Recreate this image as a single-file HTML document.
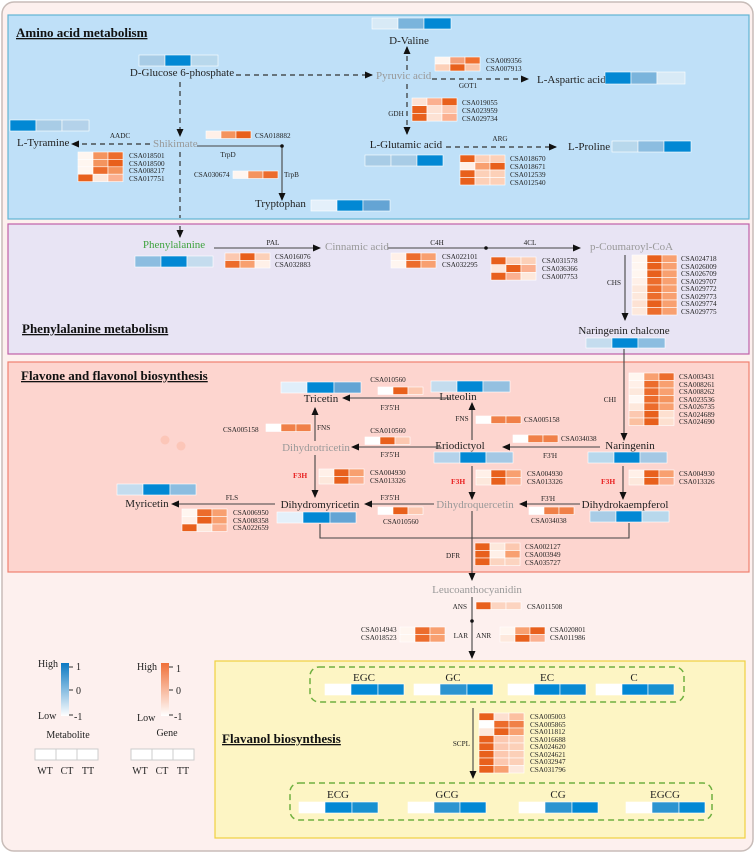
<!DOCTYPE html>
<html><head><meta charset="utf-8"><style>
html,body{margin:0;padding:0;background:#fff;}
svg{display:block;font-family:"Liberation Serif",serif;}
.g{font-size:7.2px;fill:#222}
.m{font-size:11px;fill:#222}
.gr{fill:#999}
.e{font-size:7.5px;fill:#222}
.t{font-size:13px;font-weight:bold;text-decoration:underline;fill:#111}
.d{stroke:#333;stroke-width:1.2;stroke-dasharray:5,4;fill:none}
.l{stroke:#444;stroke-width:1.1;fill:none}
rect.c{stroke:#fff;stroke-width:0.6}
</style></head><body>
<svg width="756" height="854" viewBox="0 0 756 854" xmlns="http://www.w3.org/2000/svg">
<defs>
<marker id="a" markerWidth="8" markerHeight="8" refX="7" refY="4" orient="auto" markerUnits="userSpaceOnUse"><path d="M0,0.5 L8,4 L0,7.5z" fill="#111"/></marker>
<linearGradient id="gb" x1="0" y1="1" x2="0" y2="0"><stop offset="0" stop-color="#fff"/><stop offset="1" stop-color="#0a78c2"/></linearGradient>
<linearGradient id="go" x1="0" y1="1" x2="0" y2="0"><stop offset="0" stop-color="#fff"/><stop offset="1" stop-color="#f07038"/></linearGradient>
</defs>
<rect x="2" y="2" width="751" height="849" rx="12" fill="#fdf0ee" stroke="#c8bcb8" stroke-width="1.5"/>
<rect x="8" y="15" width="741" height="204" fill="#bfe0f8" stroke="#62b4d4" stroke-width="1.2"/>
<rect x="8" y="224" width="741" height="130" fill="#e8e4f4" stroke="#c060a8" stroke-width="1.2"/>
<rect x="8" y="362" width="741" height="210" fill="#fdd5cf" stroke="#f08070" stroke-width="1.2"/>
<rect x="215" y="661" width="530" height="177" fill="#fdf5c4" stroke="#f0d040" stroke-width="1.2"/>

<text x="16" y="37" class="t">Amino acid metabolism</text>
<text x="22" y="333" class="t">Phenylalanine metabolism</text>
<text x="21" y="380" class="t">Flavone and flavonol biosynthesis</text>
<text x="222" y="743" class="t">Flavanol biosynthesis</text>

<!-- Amino acid -->
<g>
<rect class="c" x="139" y="55" width="26" height="11" fill="#a8cce6"/><rect class="c" x="165" y="55" width="26" height="11" fill="#0288d4"/><rect class="c" x="191" y="55" width="27" height="11" fill="#b8d8ec"/>
<text x="182" y="76" class="m" text-anchor="middle">D-Glucose 6-phosphate</text>
<line x1="236" y1="75" x2="372" y2="75" class="d" marker-end="url(#a)"/>
<text x="376" y="79" class="m gr">Pyruvic acid</text>
<rect class="c" x="372" y="18" width="26" height="11" fill="#d8eaf6"/><rect class="c" x="398" y="18" width="26" height="11" fill="#7ab4dc"/><rect class="c" x="424" y="18" width="27" height="11" fill="#0288d4"/>
<text x="409" y="44" class="m" text-anchor="middle">D-Valine</text>
<line x1="407" y1="70" x2="407" y2="47" class="d" marker-end="url(#a)"/>
<line x1="407" y1="84" x2="407" y2="134" class="d" marker-end="url(#a)"/>
<rect class="c" x="435" y="57" width="15" height="7" fill="#fff6f0"/><rect class="c" x="450" y="57" width="15" height="7" fill="#f4a07a"/><rect class="c" x="465" y="57" width="15" height="7" fill="#f07030"/>
<rect class="c" x="435" y="64" width="15" height="7" fill="#fcd0b8"/><rect class="c" x="450" y="64" width="15" height="7" fill="#e8601c"/><rect class="c" x="465" y="64" width="15" height="7" fill="#fbc4a8"/>
<text x="486" y="63" class="g">CSA009356</text><text x="486" y="71" class="g">CSA007913</text>
<line x1="432" y1="79" x2="528" y2="79" class="d" marker-end="url(#a)"/>
<text x="468" y="88" class="g" text-anchor="middle">GOT1</text>
<text x="537" y="83" class="m">L-Aspartic acid</text>
<rect class="c" x="605" y="72" width="26" height="12" fill="#0288d4"/><rect class="c" x="631" y="72" width="26" height="12" fill="#7ab4dc"/><rect class="c" x="657" y="72" width="28" height="12" fill="#d8eaf6"/>
<text x="396" y="116" class="g" text-anchor="middle">GDH</text>
<rect class="c" x="412" y="98" width="15" height="7.7" fill="#fde2d4"/><rect class="c" x="427" y="98" width="15" height="7.7" fill="#fbb090"/><rect class="c" x="442" y="98" width="15" height="7.7" fill="#e8601c"/>
<rect class="c" x="412" y="105.7" width="15" height="7.7" fill="#e8601c"/><rect class="c" x="427" y="105.7" width="15" height="7.7" fill="#fde2d4"/><rect class="c" x="442" y="105.7" width="15" height="7.7" fill="#fcc8b0"/>
<rect class="c" x="412" y="113.4" width="15" height="7.7" fill="#e8601c"/><rect class="c" x="427" y="113.4" width="15" height="7.7" fill="#fde2d4"/><rect class="c" x="442" y="113.4" width="15" height="7.7" fill="#fbb090"/>
<text x="462" y="105" class="g">CSA019055</text><text x="462" y="113" class="g">CSA023959</text><text x="462" y="121" class="g">CSA029734</text>
<text x="406" y="148" class="m" text-anchor="middle">L-Glutamic acid</text>
<rect class="c" x="365" y="155" width="26" height="11" fill="#a8cce6"/><rect class="c" x="391" y="155" width="26" height="11" fill="#a8cce6"/><rect class="c" x="417" y="155" width="26" height="11" fill="#0288d4"/>
<line x1="446" y1="147" x2="556" y2="147" class="d" marker-end="url(#a)"/>
<text x="500" y="141" class="g" text-anchor="middle">ARG</text>
<text x="568" y="150" class="m">L-Proline</text>
<rect class="c" x="612" y="141" width="26" height="11" fill="#b8d8ec"/><rect class="c" x="638" y="141" width="26" height="11" fill="#8cbde0"/><rect class="c" x="664" y="141" width="27" height="11" fill="#0288d4"/>
<rect class="c" x="460" y="155" width="15" height="7.5" fill="#e8601c"/><rect class="c" x="475" y="155" width="15" height="7.5" fill="#fcd0b8"/><rect class="c" x="490" y="155" width="15" height="7.5" fill="#fcd0b8"/>
<rect class="c" x="460" y="162.5" width="15" height="7.5" fill="#fff0e8"/><rect class="c" x="475" y="162.5" width="15" height="7.5" fill="#f8a070"/><rect class="c" x="490" y="162.5" width="15" height="7.5" fill="#e8601c"/>
<rect class="c" x="460" y="170" width="15" height="7.5" fill="#e8601c"/><rect class="c" x="475" y="170" width="15" height="7.5" fill="#fcd0b8"/><rect class="c" x="490" y="170" width="15" height="7.5" fill="#fcd0b8"/>
<rect class="c" x="460" y="177.5" width="15" height="7.5" fill="#e8601c"/><rect class="c" x="475" y="177.5" width="15" height="7.5" fill="#fcd0b8"/><rect class="c" x="490" y="177.5" width="15" height="7.5" fill="#fcd0b8"/>
<text x="510" y="161" class="g">CSA018670</text><text x="510" y="169" class="g">CSA018671</text><text x="510" y="177" class="g">CSA012539</text><text x="510" y="185" class="g">CSA012540</text>
<line x1="180" y1="82" x2="180" y2="136" class="d" marker-end="url(#a)"/>
<text x="153" y="147" class="m gr">Shikimate</text>
<line x1="150" y1="144" x2="72" y2="144" class="d" marker-end="url(#a)"/>
<text x="17" y="146" class="m">L-Tyramine</text>
<rect class="c" x="10" y="120" width="26" height="11" fill="#0288d4"/><rect class="c" x="36" y="120" width="26" height="11" fill="#a8cce6"/><rect class="c" x="62" y="120" width="27" height="11" fill="#b4d2ea"/>
<text x="120" y="138" class="g" text-anchor="middle">AADC</text>
<rect class="c" x="78" y="152" width="15" height="7.4" fill="#fff6f0"/><rect class="c" x="93" y="152" width="15" height="7.4" fill="#f4945e"/><rect class="c" x="108" y="152" width="15" height="7.4" fill="#ec6c2c"/>
<rect class="c" x="78" y="159.4" width="15" height="7.4" fill="#fff6f0"/><rect class="c" x="93" y="159.4" width="15" height="7.4" fill="#f4945e"/><rect class="c" x="108" y="159.4" width="15" height="7.4" fill="#e8601c"/>
<rect class="c" x="78" y="166.8" width="15" height="7.4" fill="#fff6f0"/><rect class="c" x="93" y="166.8" width="15" height="7.4" fill="#ec6c2c"/><rect class="c" x="108" y="166.8" width="15" height="7.4" fill="#f4945e"/>
<rect class="c" x="78" y="174.2" width="15" height="7.4" fill="#e8601c"/><rect class="c" x="93" y="174.2" width="15" height="7.4" fill="#fde8dc"/><rect class="c" x="108" y="174.2" width="15" height="7.4" fill="#fbb090"/>
<text x="129" y="158" class="g">CSA018501</text><text x="129" y="166" class="g">CSA018500</text><text x="129" y="173" class="g">CSA008217</text><text x="129" y="181" class="g">CSA017751</text>
<line x1="180" y1="152" x2="180" y2="218" class="d"/>
<line x1="180" y1="226" x2="180" y2="237" class="d" marker-end="url(#a)"/>
<polyline points="197,146 282,146 282,200" class="l" marker-end="url(#a)"/>
<circle cx="282" cy="146" r="1.8" fill="#111"/>
<rect class="c" x="206" y="131" width="15" height="7.5" fill="#fff0e8"/><rect class="c" x="221" y="131" width="15" height="7.5" fill="#f4945e"/><rect class="c" x="236" y="131" width="15" height="7.5" fill="#e8601c"/>
<text x="255" y="138" class="g">CSA018882</text>
<text x="228" y="157" class="g" text-anchor="middle">TrpD</text>
<text x="194" y="177" class="g">CSA030674</text>
<rect class="c" x="233" y="171" width="15" height="7.5" fill="#fff6f0"/><rect class="c" x="248" y="171" width="15" height="7.5" fill="#f4945e"/><rect class="c" x="263" y="171" width="15" height="7.5" fill="#ec6c2c"/>
<text x="284" y="177" class="g">TrpB</text>
<text x="255" y="207" class="m">Tryptophan</text>
<rect class="c" x="311" y="200" width="26" height="11" fill="#e4f0fa"/><rect class="c" x="337" y="200" width="26" height="11" fill="#0288d4"/><rect class="c" x="363" y="200" width="27" height="11" fill="#64a4d4"/>
</g>

<!-- Phenylalanine -->
<g>
<text x="174" y="248" class="m" text-anchor="middle" style="fill:#3fa33f">Phenylalanine</text>
<rect class="c" x="135" y="256" width="26" height="11" fill="#8cbde0"/><rect class="c" x="161" y="256" width="26" height="11" fill="#0288d4"/><rect class="c" x="187" y="256" width="26" height="11" fill="#c4dcee"/>
<line x1="214" y1="248" x2="320" y2="248" class="l" marker-end="url(#a)"/>
<text x="273" y="245" class="g" text-anchor="middle">PAL</text>
<rect class="c" x="225" y="253" width="15" height="7.5" fill="#fcc8b0"/><rect class="c" x="240" y="253" width="15" height="7.5" fill="#e8601c"/><rect class="c" x="255" y="253" width="15" height="7.5" fill="#fcd0b8"/>
<rect class="c" x="225" y="260.5" width="15" height="7.5" fill="#ec6c2c"/><rect class="c" x="240" y="260.5" width="15" height="7.5" fill="#f8a070"/><rect class="c" x="255" y="260.5" width="15" height="7.5" fill="#fff0e8"/>
<text x="275" y="259" class="g">CSA016076</text><text x="275" y="267" class="g">CSA032883</text>
<text x="325" y="250" class="m gr">Cinnamic acid</text>
<line x1="388" y1="248" x2="580" y2="248" class="l" marker-end="url(#a)"/>
<circle cx="486" cy="248" r="1.8" fill="#111"/>
<text x="437" y="245" class="g" text-anchor="middle">C4H</text><text x="530" y="245" class="g" text-anchor="middle">4CL</text>
<rect class="c" x="391" y="253" width="15" height="7.5" fill="#fff0e8"/><rect class="c" x="406" y="253" width="15" height="7.5" fill="#ec6c2c"/><rect class="c" x="421" y="253" width="15" height="7.5" fill="#f8a070"/>
<rect class="c" x="391" y="260.5" width="15" height="7.5" fill="#fff6f0"/><rect class="c" x="406" y="260.5" width="15" height="7.5" fill="#ec6c2c"/><rect class="c" x="421" y="260.5" width="15" height="7.5" fill="#f8a070"/>
<text x="442" y="259" class="g">CSA022101</text><text x="442" y="267" class="g">CSA032295</text>
<rect class="c" x="491" y="257" width="15" height="7.7" fill="#e8601c"/><rect class="c" x="506" y="257" width="15" height="7.7" fill="#fcd0b8"/><rect class="c" x="521" y="257" width="15" height="7.7" fill="#fcd0b8"/>
<rect class="c" x="491" y="264.7" width="15" height="7.7" fill="#fde8dc"/><rect class="c" x="506" y="264.7" width="15" height="7.7" fill="#e8601c"/><rect class="c" x="521" y="264.7" width="15" height="7.7" fill="#fbb090"/>
<rect class="c" x="491" y="272.4" width="15" height="7.7" fill="#e8601c"/><rect class="c" x="506" y="272.4" width="15" height="7.7" fill="#fbb090"/><rect class="c" x="521" y="272.4" width="15" height="7.7" fill="#fde8dc"/>
<text x="542" y="263" class="g">CSA031578</text><text x="542" y="271" class="g">CSA036366</text><text x="542" y="279" class="g">CSA007753</text>
<text x="590" y="250" class="m gr">p-Coumaroyl-CoA</text>
<line x1="625" y1="255" x2="625" y2="320" class="l" marker-end="url(#a)"/>
<text x="614" y="285" class="g" text-anchor="middle">CHS</text>
<g>
<rect class="c" x="632" y="255" width="15" height="7.5" fill="#fff6f0"/><rect class="c" x="647" y="255" width="15" height="7.5" fill="#e8601c"/><rect class="c" x="662" y="255" width="15" height="7.5" fill="#f8a070"/>
<rect class="c" x="632" y="262.5" width="15" height="7.5" fill="#fff6f0"/><rect class="c" x="647" y="262.5" width="15" height="7.5" fill="#e8601c"/><rect class="c" x="662" y="262.5" width="15" height="7.5" fill="#f8a070"/>
<rect class="c" x="632" y="270" width="15" height="7.5" fill="#fff6f0"/><rect class="c" x="647" y="270" width="15" height="7.5" fill="#e8601c"/><rect class="c" x="662" y="270" width="15" height="7.5" fill="#f8a070"/>
<rect class="c" x="632" y="277.5" width="15" height="7.5" fill="#fff0e8"/><rect class="c" x="647" y="277.5" width="15" height="7.5" fill="#ec6c2c"/><rect class="c" x="662" y="277.5" width="15" height="7.5" fill="#f8a070"/>
<rect class="c" x="632" y="285" width="15" height="7.5" fill="#fde8dc"/><rect class="c" x="647" y="285" width="15" height="7.5" fill="#ec6c2c"/><rect class="c" x="662" y="285" width="15" height="7.5" fill="#f8a070"/>
<rect class="c" x="632" y="292.5" width="15" height="7.5" fill="#fde8dc"/><rect class="c" x="647" y="292.5" width="15" height="7.5" fill="#ec6c2c"/><rect class="c" x="662" y="292.5" width="15" height="7.5" fill="#f8a070"/>
<rect class="c" x="632" y="300" width="15" height="7.5" fill="#fde2d4"/><rect class="c" x="647" y="300" width="15" height="7.5" fill="#e8601c"/><rect class="c" x="662" y="300" width="15" height="7.5" fill="#f8a070"/>
<rect class="c" x="632" y="307.5" width="15" height="7.5" fill="#fde8dc"/><rect class="c" x="647" y="307.5" width="15" height="7.5" fill="#ec6c2c"/><rect class="c" x="662" y="307.5" width="15" height="7.5" fill="#f8a070"/>
</g>
<text x="681" y="261" class="g">CSA024718</text><text x="681" y="269" class="g">CSA026009</text><text x="681" y="276" class="g">CSA026709</text><text x="681" y="284" class="g">CSA029707</text><text x="681" y="291" class="g">CSA029772</text><text x="681" y="299" class="g">CSA029773</text><text x="681" y="306" class="g">CSA029774</text><text x="681" y="314" class="g">CSA029775</text>
<text x="624" y="334" class="m" text-anchor="middle">Naringenin chalcone</text>
<rect class="c" x="586" y="338" width="26" height="10" fill="#c4dcee"/><rect class="c" x="612" y="338" width="26" height="10" fill="#0288d4"/><rect class="c" x="638" y="338" width="27" height="10" fill="#8cbde0"/>
</g>

<!-- Flavone -->
<g>
<line x1="624" y1="349" x2="624" y2="440" class="l" marker-end="url(#a)"/>
<text x="610" y="402" class="g" text-anchor="middle">CHI</text>
<g>
<rect class="c" x="629" y="373" width="15" height="7.5" fill="#fff6f0"/><rect class="c" x="644" y="373" width="15" height="7.5" fill="#f8a070"/><rect class="c" x="659" y="373" width="15" height="7.5" fill="#ec6c2c"/>
<rect class="c" x="629" y="380.5" width="15" height="7.5" fill="#fff0e8"/><rect class="c" x="644" y="380.5" width="15" height="7.5" fill="#ec6c2c"/><rect class="c" x="659" y="380.5" width="15" height="7.5" fill="#f8a070"/>
<rect class="c" x="629" y="388" width="15" height="7.5" fill="#fde8dc"/><rect class="c" x="644" y="388" width="15" height="7.5" fill="#ec6c2c"/><rect class="c" x="659" y="388" width="15" height="7.5" fill="#f8a070"/>
<rect class="c" x="629" y="395.5" width="15" height="7.5" fill="#fff8f4"/><rect class="c" x="644" y="395.5" width="15" height="7.5" fill="#ec6c2c"/><rect class="c" x="659" y="395.5" width="15" height="7.5" fill="#f4945e"/>
<rect class="c" x="629" y="403" width="15" height="7.5" fill="#fde8dc"/><rect class="c" x="644" y="403" width="15" height="7.5" fill="#ec6c2c"/><rect class="c" x="659" y="403" width="15" height="7.5" fill="#f8a070"/>
<rect class="c" x="629" y="410.5" width="15" height="7.5" fill="#fcc8b0"/><rect class="c" x="644" y="410.5" width="15" height="7.5" fill="#e8601c"/><rect class="c" x="659" y="410.5" width="15" height="7.5" fill="#fde0d0"/>
<rect class="c" x="629" y="418" width="15" height="7.5" fill="#fbc0a0"/><rect class="c" x="644" y="418" width="15" height="7.5" fill="#e8601c"/><rect class="c" x="659" y="418" width="15" height="7.5" fill="#fde0d0"/>
</g>
<text x="679" y="379" class="g">CSA003431</text><text x="679" y="387" class="g">CSA008261</text><text x="679" y="394" class="g">CSA008262</text><text x="679" y="402" class="g">CSA023536</text><text x="679" y="409" class="g">CSA026735</text><text x="679" y="417" class="g">CSA024689</text><text x="679" y="424" class="g">CSA024690</text>
<text x="630" y="449" class="m" text-anchor="middle">Naringenin</text>
<rect class="c" x="588" y="452" width="26" height="11" fill="#b8d8ec"/><rect class="c" x="614" y="452" width="26" height="11" fill="#0288d4"/><rect class="c" x="640" y="452" width="27" height="11" fill="#a4c8e4"/>
<line x1="600" y1="447" x2="503" y2="447" class="l" marker-end="url(#a)"/>
<text x="550" y="458" class="g" text-anchor="middle">F3'H</text>
<rect class="c" x="513" y="435" width="15" height="7.5" fill="#fff"/><rect class="c" x="528" y="435" width="15" height="7.5" fill="#f08048"/><rect class="c" x="543" y="435" width="15" height="7.5" fill="#f08048"/>
<text x="561" y="441" class="g">CSA034038</text>
<text x="460" y="449" class="m" text-anchor="middle">Eriodictyol</text>
<rect class="c" x="434" y="452" width="26" height="11" fill="#b4d2ea"/><rect class="c" x="460" y="452" width="26" height="11" fill="#0288d4"/><rect class="c" x="486" y="452" width="27" height="11" fill="#a4c8e4"/>
<line x1="472" y1="440" x2="472" y2="403" class="l" marker-end="url(#a)"/>
<text x="462" y="421" class="g" text-anchor="middle">FNS</text>
<rect class="c" x="476" y="416" width="15" height="7.5" fill="#fff"/><rect class="c" x="491" y="416" width="15" height="7.5" fill="#f08048"/><rect class="c" x="506" y="416" width="15" height="7.5" fill="#f08048"/>
<text x="524" y="422" class="g">CSA005158</text>
<text x="458" y="400" class="m" text-anchor="middle">Luteolin</text>
<rect class="c" x="431" y="381" width="26" height="11" fill="#c4dcee"/><rect class="c" x="457" y="381" width="26" height="11" fill="#0288d4"/><rect class="c" x="483" y="381" width="27" height="11" fill="#94c0e0"/>
<line x1="450" y1="398" x2="343" y2="398" class="l" marker-end="url(#a)"/>
<text x="390" y="410" class="g" text-anchor="middle">F3'5'H</text>
<text x="388" y="382" class="g" text-anchor="middle">CSA010560</text>
<rect class="c" x="378" y="387" width="15" height="7.5" fill="#fff"/><rect class="c" x="393" y="387" width="15" height="7.5" fill="#e8601c"/><rect class="c" x="408" y="387" width="15" height="7.5" fill="#fcc8b0"/>
<text x="321" y="402" class="m" text-anchor="middle">Tricetin</text>
<rect class="c" x="281" y="382" width="26" height="11" fill="#e0eefa"/><rect class="c" x="307" y="382" width="27" height="11" fill="#0288d4"/><rect class="c" x="334" y="382" width="27" height="11" fill="#64a4d4"/>
<line x1="441" y1="447" x2="352" y2="447" class="l" marker-end="url(#a)"/>
<text x="388" y="433" class="g" text-anchor="middle">CSA010560</text>
<rect class="c" x="365" y="437" width="15" height="7.5" fill="#fff"/><rect class="c" x="380" y="437" width="15" height="7.5" fill="#e8601c"/><rect class="c" x="395" y="437" width="15" height="7.5" fill="#fcc8b0"/>
<text x="390" y="457" class="g" text-anchor="middle">F3'5'H</text>
<text x="316" y="451" class="m gr" text-anchor="middle">Dihydrotricetin</text>
<line x1="315" y1="441" x2="315" y2="408" class="l" marker-end="url(#a)"/>
<text x="223" y="432" class="g">CSA005158</text>
<rect class="c" x="266" y="424" width="15" height="7.5" fill="#fff"/><rect class="c" x="281" y="424" width="15" height="7.5" fill="#f08048"/><rect class="c" x="296" y="424" width="15" height="7.5" fill="#f08048"/>
<text x="317" y="430" class="g">FNS</text>
<circle cx="165" cy="440" r="4.5" fill="#fcc6b8"/><circle cx="181" cy="446" r="4.5" fill="#fcc6b8"/>
<line x1="315" y1="455" x2="315" y2="497" class="l" marker-end="url(#a)"/>
<text x="293" y="478" class="e" style="fill:#e82020;font-weight:bold">F3H</text>
<rect class="c" x="319" y="469" width="15" height="7.5" fill="#fff0e8"/><rect class="c" x="334" y="469" width="15" height="7.5" fill="#e8601c"/><rect class="c" x="349" y="469" width="15" height="7.5" fill="#f8a070"/>
<rect class="c" x="319" y="476.5" width="15" height="7.5" fill="#fde8dc"/><rect class="c" x="334" y="476.5" width="15" height="7.5" fill="#e8601c"/><rect class="c" x="349" y="476.5" width="15" height="7.5" fill="#fbb090"/>
<text x="370" y="475" class="g">CSA004930</text><text x="370" y="483" class="g">CSA013326</text>
<line x1="472" y1="466" x2="472" y2="499" class="l" marker-end="url(#a)"/>
<text x="451" y="484" class="e" style="fill:#e82020;font-weight:bold">F3H</text>
<rect class="c" x="476" y="470" width="15" height="7.5" fill="#fff0e8"/><rect class="c" x="491" y="470" width="15" height="7.5" fill="#e8601c"/><rect class="c" x="506" y="470" width="15" height="7.5" fill="#f8a070"/>
<rect class="c" x="476" y="477.5" width="15" height="7.5" fill="#fde8dc"/><rect class="c" x="491" y="477.5" width="15" height="7.5" fill="#e8601c"/><rect class="c" x="506" y="477.5" width="15" height="7.5" fill="#fbb090"/>
<text x="527" y="476" class="g">CSA004930</text><text x="527" y="484" class="g">CSA013326</text>
<line x1="623" y1="466" x2="623" y2="499" class="l" marker-end="url(#a)"/>
<text x="601" y="484" class="e" style="fill:#e82020;font-weight:bold">F3H</text>
<rect class="c" x="629" y="470" width="15" height="7.5" fill="#fff0e8"/><rect class="c" x="644" y="470" width="15" height="7.5" fill="#e8601c"/><rect class="c" x="659" y="470" width="15" height="7.5" fill="#f8a070"/>
<rect class="c" x="629" y="477.5" width="15" height="7.5" fill="#fde8dc"/><rect class="c" x="644" y="477.5" width="15" height="7.5" fill="#e8601c"/><rect class="c" x="659" y="477.5" width="15" height="7.5" fill="#fbb090"/>
<text x="679" y="476" class="g">CSA004930</text><text x="679" y="484" class="g">CSA013326</text>
<text x="625" y="508" class="m" text-anchor="middle">Dihydrokaempferol</text>
<rect class="c" x="590" y="511" width="26" height="11" fill="#a8cce6"/><rect class="c" x="616" y="511" width="26" height="11" fill="#0288d4"/><rect class="c" x="642" y="511" width="27" height="11" fill="#b8d8ec"/>
<line x1="580" y1="504" x2="520" y2="504" class="l" marker-end="url(#a)"/>
<text x="548" y="501" class="g" text-anchor="middle">F3'H</text>
<rect class="c" x="529" y="507" width="15" height="7.5" fill="#fff"/><rect class="c" x="544" y="507" width="15" height="7.5" fill="#f08048"/><rect class="c" x="559" y="507" width="15" height="7.5" fill="#f08048"/>
<text x="531" y="523" class="g">CSA034038</text>
<text x="475" y="508" class="m gr" text-anchor="middle">Dihydroquercetin</text>
<line x1="434" y1="504" x2="365" y2="504" class="l" marker-end="url(#a)"/>
<text x="390" y="500" class="g" text-anchor="middle">F3'5'H</text>
<rect class="c" x="378" y="507" width="15" height="7.5" fill="#fff"/><rect class="c" x="393" y="507" width="15" height="7.5" fill="#e8601c"/><rect class="c" x="408" y="507" width="15" height="7.5" fill="#fcc8b0"/>
<text x="383" y="524" class="g">CSA010560</text>
<text x="320" y="508" class="m" text-anchor="middle">Dihydromyricetin</text>
<rect class="c" x="277" y="512" width="26" height="11" fill="#e4f0fa"/><rect class="c" x="303" y="512" width="27" height="11" fill="#0288d4"/><rect class="c" x="330" y="512" width="26" height="11" fill="#64a4d4"/>
<line x1="275" y1="504" x2="172" y2="504" class="l" marker-end="url(#a)"/>
<text x="232" y="500" class="g" text-anchor="middle">FLS</text>
<text x="147" y="507" class="m" text-anchor="middle">Myricetin</text>
<rect class="c" x="117" y="484" width="26" height="11" fill="#c4dcee"/><rect class="c" x="143" y="484" width="27" height="11" fill="#0288d4"/><rect class="c" x="170" y="484" width="26" height="11" fill="#8cbde0"/>
<rect class="c" x="182" y="509" width="15" height="7.5" fill="#fff6f0"/><rect class="c" x="197" y="509" width="15" height="7.5" fill="#ec6c2c"/><rect class="c" x="212" y="509" width="15" height="7.5" fill="#f8a070"/>
<rect class="c" x="182" y="516.5" width="15" height="7.5" fill="#fff0e8"/><rect class="c" x="197" y="516.5" width="15" height="7.5" fill="#e8601c"/><rect class="c" x="212" y="516.5" width="15" height="7.5" fill="#f8a070"/>
<rect class="c" x="182" y="524" width="15" height="7.5" fill="#e8601c"/><rect class="c" x="197" y="524" width="15" height="7.5" fill="#fde8dc"/><rect class="c" x="212" y="524" width="15" height="7.5" fill="#fbb090"/>
<text x="233" y="515" class="g">CSA006950</text><text x="233" y="523" class="g">CSA008358</text><text x="233" y="530" class="g">CSA022659</text>
<polyline points="320,524 320,538 629,538 629,523" class="l"/>
<line x1="472" y1="511" x2="472" y2="580" class="l" marker-end="url(#a)"/>
<text x="453" y="558" class="g" text-anchor="middle">DFR</text>
<rect class="c" x="475" y="543" width="15" height="7.5" fill="#e8601c"/><rect class="c" x="490" y="543" width="15" height="7.5" fill="#fde8dc"/><rect class="c" x="505" y="543" width="15" height="7.5" fill="#fcc8b0"/>
<rect class="c" x="475" y="550.5" width="15" height="7.5" fill="#e8601c"/><rect class="c" x="490" y="550.5" width="15" height="7.5" fill="#fff0e8"/><rect class="c" x="505" y="550.5" width="15" height="7.5" fill="#f8a070"/>
<rect class="c" x="475" y="558" width="15" height="7.5" fill="#e8601c"/><rect class="c" x="490" y="558" width="15" height="7.5" fill="#fcd4c0"/><rect class="c" x="505" y="558" width="15" height="7.5" fill="#fcd4c0"/>
<text x="525" y="549" class="g">CSA002127</text><text x="525" y="557" class="g">CSA003949</text><text x="525" y="565" class="g">CSA035727</text>
</g>

<!-- Lower -->
<g>
<text x="477" y="593" class="m gr" text-anchor="middle" style="font-size:11px">Leucoanthocyanidin</text>
<line x1="472" y1="597" x2="472" y2="658" class="l" marker-end="url(#a)"/>
<circle cx="472" cy="621" r="1.8" fill="#111"/>
<text x="467" y="609" class="g" text-anchor="end">ANS</text>
<rect class="c" x="476" y="602" width="15" height="7.5" fill="#e8601c"/><rect class="c" x="491" y="602" width="15" height="7.5" fill="#fcd4c0"/><rect class="c" x="506" y="602" width="15" height="7.5" fill="#fcd4c0"/>
<text x="527" y="609" class="g">CSA011508</text>
<text x="468" y="638" class="g" text-anchor="end">LAR</text><text x="476" y="638" class="g">ANR</text>
<text x="361" y="632" class="g">CSA014943</text><text x="361" y="640" class="g">CSA018523</text>
<rect class="c" x="400" y="627" width="15" height="7.5" fill="#fff6f0"/><rect class="c" x="415" y="627" width="15" height="7.5" fill="#ec6c2c"/><rect class="c" x="430" y="627" width="15" height="7.5" fill="#f8a070"/>
<rect class="c" x="400" y="634.5" width="15" height="7.5" fill="#fff6f0"/><rect class="c" x="415" y="634.5" width="15" height="7.5" fill="#ec6c2c"/><rect class="c" x="430" y="634.5" width="15" height="7.5" fill="#f8a070"/>
<rect class="c" x="500" y="627" width="15" height="7.5" fill="#fff6f0"/><rect class="c" x="515" y="627" width="15" height="7.5" fill="#f8a070"/><rect class="c" x="530" y="627" width="15" height="7.5" fill="#e8601c"/>
<rect class="c" x="500" y="634.5" width="15" height="7.5" fill="#fde8dc"/><rect class="c" x="515" y="634.5" width="15" height="7.5" fill="#e8601c"/><rect class="c" x="530" y="634.5" width="15" height="7.5" fill="#fbb090"/>
<text x="550" y="632" class="g">CSA020801</text><text x="550" y="640" class="g">CSA011986</text>

<rect x="310" y="667" width="374" height="35" rx="9" fill="none" stroke="#70b040" stroke-width="1.5" stroke-dasharray="6,4"/>
<text x="364" y="681" class="m" text-anchor="middle">EGC</text>
<text x="453" y="681" class="m" text-anchor="middle">GC</text>
<text x="547" y="681" class="m" text-anchor="middle">EC</text>
<text x="634" y="681" class="m" text-anchor="middle">C</text>
<rect class="c" x="325" y="684" width="26" height="11" fill="#fff"/><rect class="c" x="351" y="684" width="27" height="11" fill="#0288d4"/><rect class="c" x="378" y="684" width="26" height="11" fill="#0a8ad2"/>
<rect class="c" x="414" y="684" width="26" height="11" fill="#fff"/><rect class="c" x="440" y="684" width="27" height="11" fill="#2c94d0"/><rect class="c" x="467" y="684" width="26" height="11" fill="#0288d4"/>
<rect class="c" x="508" y="684" width="26" height="11" fill="#fff"/><rect class="c" x="534" y="684" width="26" height="11" fill="#0288d4"/><rect class="c" x="560" y="684" width="26" height="11" fill="#0a8ad2"/>
<rect class="c" x="596" y="684" width="26" height="11" fill="#fff"/><rect class="c" x="622" y="684" width="26" height="11" fill="#0288d4"/><rect class="c" x="648" y="684" width="26" height="11" fill="#1890d0"/>
<line x1="473" y1="708" x2="473" y2="778" class="l" marker-end="url(#a)"/>
<text x="470" y="746" class="g" text-anchor="end">SCPL</text>
<g>
<rect class="c" x="479" y="713" width="15" height="7.5" fill="#e8601c"/><rect class="c" x="494" y="713" width="15" height="7.5" fill="#fde0d0"/><rect class="c" x="509" y="713" width="15" height="7.5" fill="#fcc0a0"/>
<rect class="c" x="479" y="720.5" width="15" height="7.5" fill="#fff"/><rect class="c" x="494" y="720.5" width="15" height="7.5" fill="#ec6c2c"/><rect class="c" x="509" y="720.5" width="15" height="7.5" fill="#f08048"/>
<rect class="c" x="479" y="728" width="15" height="7.5" fill="#fde8dc"/><rect class="c" x="494" y="728" width="15" height="7.5" fill="#e8601c"/><rect class="c" x="509" y="728" width="15" height="7.5" fill="#f8a070"/>
<rect class="c" x="479" y="735.5" width="15" height="7.5" fill="#e8601c"/><rect class="c" x="494" y="735.5" width="15" height="7.5" fill="#fcc8b0"/><rect class="c" x="509" y="735.5" width="15" height="7.5" fill="#fcd0b8"/>
<rect class="c" x="479" y="743" width="15" height="7.5" fill="#e8601c"/><rect class="c" x="494" y="743" width="15" height="7.5" fill="#fcc8b0"/><rect class="c" x="509" y="743" width="15" height="7.5" fill="#fcd0b8"/>
<rect class="c" x="479" y="750.5" width="15" height="7.5" fill="#e8601c"/><rect class="c" x="494" y="750.5" width="15" height="7.5" fill="#fcc8b0"/><rect class="c" x="509" y="750.5" width="15" height="7.5" fill="#fcd0b8"/>
<rect class="c" x="479" y="758" width="15" height="7.5" fill="#e8601c"/><rect class="c" x="494" y="758" width="15" height="7.5" fill="#fcc8b0"/><rect class="c" x="509" y="758" width="15" height="7.5" fill="#fcd0b8"/>
<rect class="c" x="479" y="765.5" width="15" height="7.5" fill="#e8601c"/><rect class="c" x="494" y="765.5" width="15" height="7.5" fill="#f8a070"/><rect class="c" x="509" y="765.5" width="15" height="7.5" fill="#fde8dc"/>
</g>
<text x="530" y="719" class="g">CSA005003</text><text x="530" y="727" class="g">CSA005865</text><text x="530" y="734" class="g">CSA011812</text><text x="530" y="742" class="g">CSA016688</text><text x="530" y="749" class="g">CSA024620</text><text x="530" y="757" class="g">CSA024621</text><text x="530" y="764" class="g">CSA032947</text><text x="530" y="772" class="g">CSA031796</text>

<rect x="290" y="783" width="422" height="37" rx="9" fill="none" stroke="#70b040" stroke-width="1.5" stroke-dasharray="6,4"/>
<text x="338" y="798" class="m" text-anchor="middle">ECG</text>
<text x="447" y="798" class="m" text-anchor="middle">GCG</text>
<text x="558" y="798" class="m" text-anchor="middle">CG</text>
<text x="665" y="798" class="m" text-anchor="middle">EGCG</text>
<rect class="c" x="299" y="802" width="26" height="11" fill="#fff"/><rect class="c" x="325" y="802" width="27" height="11" fill="#0288d4"/><rect class="c" x="352" y="802" width="26" height="11" fill="#1890d0"/>
<rect class="c" x="408" y="802" width="26" height="11" fill="#fff"/><rect class="c" x="434" y="802" width="26" height="11" fill="#2c94d0"/><rect class="c" x="460" y="802" width="26" height="11" fill="#0288d4"/>
<rect class="c" x="519" y="802" width="26" height="11" fill="#fff"/><rect class="c" x="545" y="802" width="27" height="11" fill="#2c94d0"/><rect class="c" x="572" y="802" width="26" height="11" fill="#0288d4"/>
<rect class="c" x="626" y="802" width="26" height="11" fill="#fff"/><rect class="c" x="652" y="802" width="27" height="11" fill="#2c94d0"/><rect class="c" x="679" y="802" width="26" height="11" fill="#0288d4"/>
</g>

<!-- Legend -->
<g style="font-size:10px">
<text x="38" y="667" fill="#222">High</text><text x="38" y="719" fill="#222">Low</text>
<rect x="61" y="663" width="8" height="53" fill="url(#gb)"/>
<text x="76" y="670" fill="#222">1</text><text x="76" y="694" fill="#222">0</text><text x="74" y="720" fill="#222">-1</text>
<line x1="69" y1="667" x2="73" y2="667" stroke="#333"/><line x1="69" y1="690" x2="73" y2="690" stroke="#333"/><line x1="69" y1="715" x2="73" y2="715" stroke="#333"/>
<text x="68" y="738" fill="#222" text-anchor="middle">Metabolite</text>
<rect x="35" y="749" width="21" height="11" fill="#fff" stroke="#ccc"/><rect x="56" y="749" width="21" height="11" fill="#fff" stroke="#ccc"/><rect x="77" y="749" width="21" height="11" fill="#fff" stroke="#ccc"/>
<text x="45" y="774" fill="#222" text-anchor="middle">WT</text><text x="67" y="774" fill="#222" text-anchor="middle">CT</text><text x="88" y="774" fill="#222" text-anchor="middle">TT</text>
<text x="137" y="670" fill="#222">High</text><text x="137" y="721" fill="#222">Low</text>
<rect x="161" y="663" width="8" height="53" fill="url(#go)"/>
<text x="176" y="672" fill="#222">1</text><text x="176" y="694" fill="#222">0</text><text x="174" y="720" fill="#222">-1</text>
<line x1="169" y1="667" x2="173" y2="667" stroke="#333"/><line x1="169" y1="690" x2="173" y2="690" stroke="#333"/><line x1="169" y1="715" x2="173" y2="715" stroke="#333"/>
<text x="167" y="736" fill="#222" text-anchor="middle">Gene</text>
<rect x="131" y="749" width="21" height="11" fill="#fff" stroke="#ccc"/><rect x="152" y="749" width="21" height="11" fill="#fff" stroke="#ccc"/><rect x="173" y="749" width="21" height="11" fill="#fff" stroke="#ccc"/>
<text x="140" y="774" fill="#222" text-anchor="middle">WT</text><text x="162" y="774" fill="#222" text-anchor="middle">CT</text><text x="183" y="774" fill="#222" text-anchor="middle">TT</text>
</g>
</svg>
</body></html>
